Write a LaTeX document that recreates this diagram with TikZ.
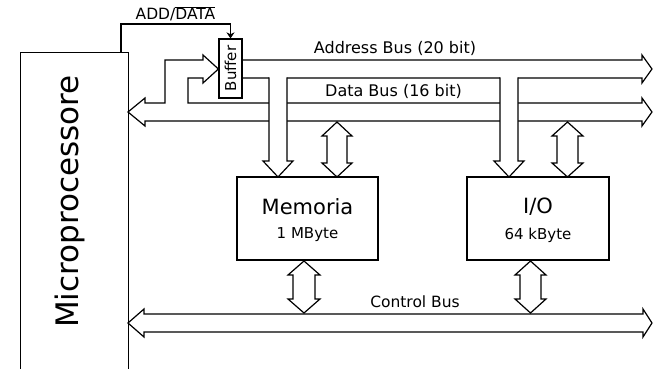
\documentclass[tikz,border=0pt]{standalone}
\usepackage{fontspec}
\setmainfont{DejaVu Sans}
\usetikzlibrary{arrows.meta}

% fixed-size text helper
\newcommand{\fsz}[1]{\fontsize{#1}{#1}\selectfont}

% vertical double-headed hollow arrow: centre x, top tip y, bottom tip y, shaft half width
\newcommand{\dualarrow}[4]{%
  \draw[bus] ({#1-#4},{#2+14}) -- ({#1-#4-5},{#2+14}) -- (#1,#2) -- ({#1+#4+5},{#2+14})
    -- ({#1+#4},{#2+14}) -- ({#1+#4},{#3-14}) -- ({#1+#4+5},{#3-14}) -- (#1,#3)
    -- ({#1-#4-5},{#3-14}) -- ({#1-#4},{#3-14}) -- cycle;}

% hollow arrow dropping from the address bus onto a box: centre x, tip y
\newcommand{\addrdrop}[2]{%
  \fill[white] (#1-9,77) -- (#1-9,{#2-16}) -- (#1-15,{#2-16}) -- (#1,#2)
    -- (#1+15,{#2-16}) -- (#1+9,{#2-16}) -- (#1+9,77) -- cycle;
  \draw[busline] (#1-9,78) -- (#1-9,{#2-16}) -- (#1-15,{#2-16}) -- (#1,#2)
    -- (#1+15,{#2-16}) -- (#1+9,{#2-16}) -- (#1+9,78);}

\begin{document}
\begin{tikzpicture}[x=1pt,y=-1pt,
  busline/.style={draw=black,line width=1.2pt,line join=miter,line cap=rect},
  bus/.style={busline,fill=white},
  unit/.style={draw=black,rectangle,line width=1.2pt,inner sep=0pt,fill=white},
  lbl/.style={inner sep=0pt,text=black}]

\useasboundingbox[fill=white] (0,0) rectangle (653,369);

% processor block, running off the lower edge
\node[unit,minimum width=108pt,minimum height=330pt,anchor=north west] (cpu) at (20,52) {};
\node[lbl,rotate=90] (cpulbl) at (70,201.5) {\fsz{31}Microprocessore};

% buffer between processor and address bus
\node[unit,minimum width=23pt,minimum height=59pt] (buf) at (230.5,68.5) {};
\node[lbl,rotate=90] (buflbl) at (buf.center) {\fsz{15}Buffer};

% memory and I/O blocks
\node[unit,minimum width=141pt,minimum height=83pt] (mem) at (307.5,218.5) {};
\node[unit,minimum width=142pt,minimum height=83pt] (io) at (538,218.5) {};
\node[lbl] (memname) at (307.5,207) {\fsz{21}Memoria};
\node[lbl] (memsize) at (307.5,235) {\fsz{15}1 MByte};
\node[lbl] (ioname) at (538,207) {\fsz{21}I/O};
\node[lbl] (iosize) at (538,235) {\fsz{15}64 kByte};

% ADD/DATA control line into the buffer
\coordinate (adsrc) at (121,52);
\draw[line width=1.2pt,-{Stealth[length=6pt,width=8pt]}]
  (adsrc) -- (121,24) -- (buf.north |- 0,24) -- (buf.north);
\node[lbl] (adlbl) at (175.5,14) {\fsz{15.5}ADD/$\overline{\hbox{DATA}}$};

% data bus, with its branch into the buffer
\draw[bus] (642,121) -- (145,121) -- (145,126) -- (128,112) -- (145,98) -- (145,103)
  -- (165,103) -- (165,60) -- (203,60) -- (203,55) -- (buf.west |- 0,69) -- (203,83)
  -- (203,78) -- (188,78) -- (188,103) -- (642,103) -- (642,98) -- (652,112)
  -- (642,126) -- cycle;
\node[lbl] (dblbl) at (393.5,91) {\fsz{16}Data Bus (16 bit)};

% address bus leaving the buffer
\draw[busline] (buf.east |- 0,60) -- (642,60) -- (642,55) -- (652,69) -- (642,83)
  -- (642,78) -- (buf.east |- 0,78);
\node[lbl] (ablbl) at (395,48) {\fsz{16}Address Bus (20 bit)};

% address lines down to memory and I/O
\addrdrop{278}{177}
\addrdrop{509}{177}

% data links
\dualarrow{337}{122}{177}{10}
\dualarrow{567.5}{122}{177}{10.5}

% control bus
\draw[bus] (144,314) -- (643,314) -- (643,309) -- (652,323) -- (643,337) -- (643,332)
  -- (144,332) -- (144,337) -- (128,323) -- (144,309) -- cycle;
\node[lbl] (cblbl) at (415,302) {\fsz{15.5}Control Bus};

% control links
\dualarrow{304}{261}{313}{11}
\dualarrow{530.5}{261}{313}{10.5}

\end{tikzpicture}
\end{document}
